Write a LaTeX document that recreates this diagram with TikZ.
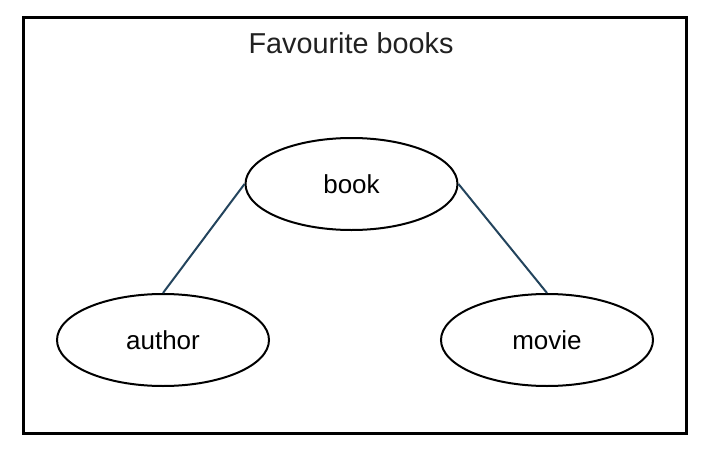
\documentclass[tikz,border=0pt]{standalone}
\usepackage{fontspec}
\setmainfont{Liberation Sans}
\usetikzlibrary{shapes.geometric}
\definecolor{linkc}{HTML}{23445D}
\begin{document}
\begin{tikzpicture}[x=1pt,y=-1pt,
  entity/.style={draw=black, line width=2pt, ellipse, minimum width=212pt, minimum height=92pt, inner sep=0pt, font=\fontsize{26}{30}\selectfont},
  link/.style={draw=linkc, line width=2pt},
  frame/.style={draw=black, line width=3pt}]
\useasboundingbox (0,0) rectangle (710,458);
\draw[frame] (23,17) rectangle (686.5,433.5);
\node[font=\fontsize{28.8}{32}\selectfont, text=black!87] (title) at (351,43) {Favourite books};
\node[entity] (book) at (351.5,184) {book};
\node[entity] (author) at (163,340) {author};
\node[entity] (movie) at (547,340) {movie};
\draw[link] (book.west) -- (author.north);
\draw[link] (book.east) -- (movie.north);
\end{tikzpicture}
\end{document}
